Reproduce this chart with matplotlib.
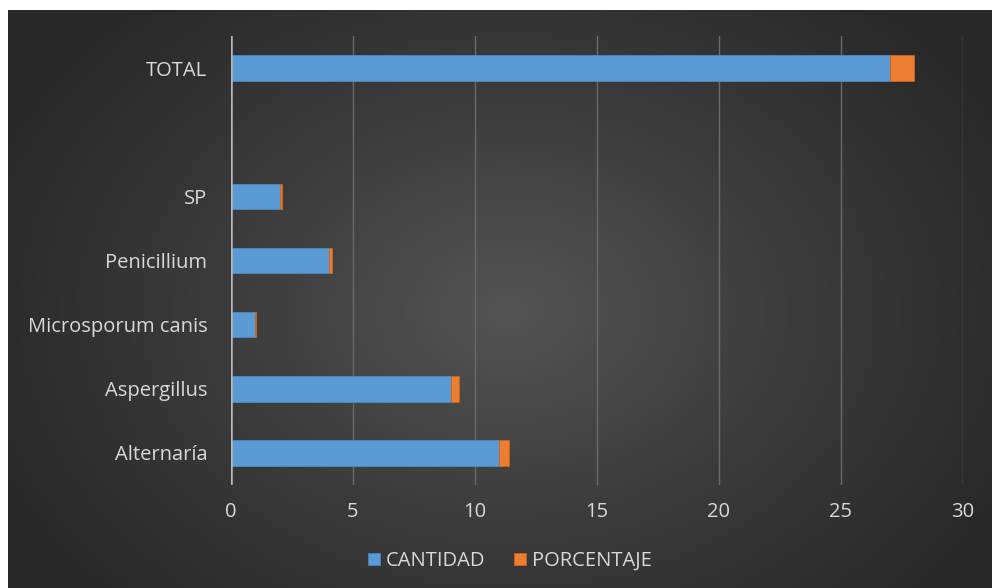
import numpy as np
import matplotlib.pyplot as plt
from matplotlib.colors import LinearSegmentedColormap

categories = ['Alternaría', 'Aspergillus', 'Microsporum canis', 'Penicillium', 'SP', '', 'TOTAL']
cantidad = [11, 9, 1, 4, 2, 0, 27]
porcentaje = [0.41, 0.33, 0.04, 0.15, 0.07, 0, 1.0]
xticks = [0, 5, 10, 15, 20, 25, 30]

W, H = 992, 588
fig = plt.figure(figsize=(W / 100, H / 100), dpi=100)
fig.patch.set_facecolor('white')

# radial gradient background
bg = fig.add_axes([8 / W, 0, 1 - 8 / W, 578 / H])
bg.set_axis_off()
yy, xx = np.mgrid[0:578, 0:984]
cx, cy = 500, 300
r = np.sqrt(((xx - cx) / 560.0) ** 2 + ((yy - cy) / 420.0) ** 2)
r = np.clip(r, 0, 1)
cmap = LinearSegmentedColormap.from_list('bg', ['#545454', '#3c3c3c', '#282828'])
bg.imshow(r, cmap=cmap, aspect='auto', extent=[0, 1, 0, 1], vmin=0, vmax=1)
bg.set_xlim(0, 1)
bg.set_ylim(0, 1)

ax = fig.add_axes([231 / W, 1 - 485 / H, (963 - 231) / W, (485 - 36) / H])
ax.patch.set_alpha(0)

y = np.arange(len(categories))
ax.barh(y, cantidad, height=0.4, color='#5b9bd5', edgecolor='#4a88c2', linewidth=0.6,
        label='CANTIDAD', zorder=3)
ax.barh(y, porcentaje, left=cantidad, height=0.4, color='#ed7d31', edgecolor='#c8651f',
        linewidth=0.6, label='PORCENTAJE', zorder=3)

ax.set_xlim(0, 30)
ax.set_ylim(-0.5, len(categories) - 0.5)
ax.set_xticks(xticks)
ax.set_yticks(y)
ax.set_yticklabels(categories)
for spine in ax.spines.values():
    spine.set_visible(False)
ax.axvline(0, color='#b8b8b8', linewidth=1.8, zorder=4)
for t in xticks[1:]:
    ax.axvline(t, color='#6a6a6a', linewidth=1.0, zorder=1)
ax.tick_params(axis='both', length=0, colors='#d9d9d9', labelsize=14.5)
ax.tick_params(axis='x', pad=12)
ax.tick_params(axis='y', pad=17)
for lab in ax.get_xticklabels() + ax.get_yticklabels():
    lab.set_family('Open Sans')
    lab.set_color('#d9d9d9')

leg = fig.legend(loc='center', bbox_to_anchor=(510 / W, 1 - 561 / H), ncol=2, frameon=False,
                 prop={'family': 'Open Sans', 'size': 14.5}, handlelength=0.6, handleheight=0.6,
                 handletextpad=0.3, columnspacing=1.4)
for text in leg.get_texts():
    text.set_color('#d9d9d9')

fig.savefig('out.png', dpi=100, facecolor=fig.get_facecolor())
